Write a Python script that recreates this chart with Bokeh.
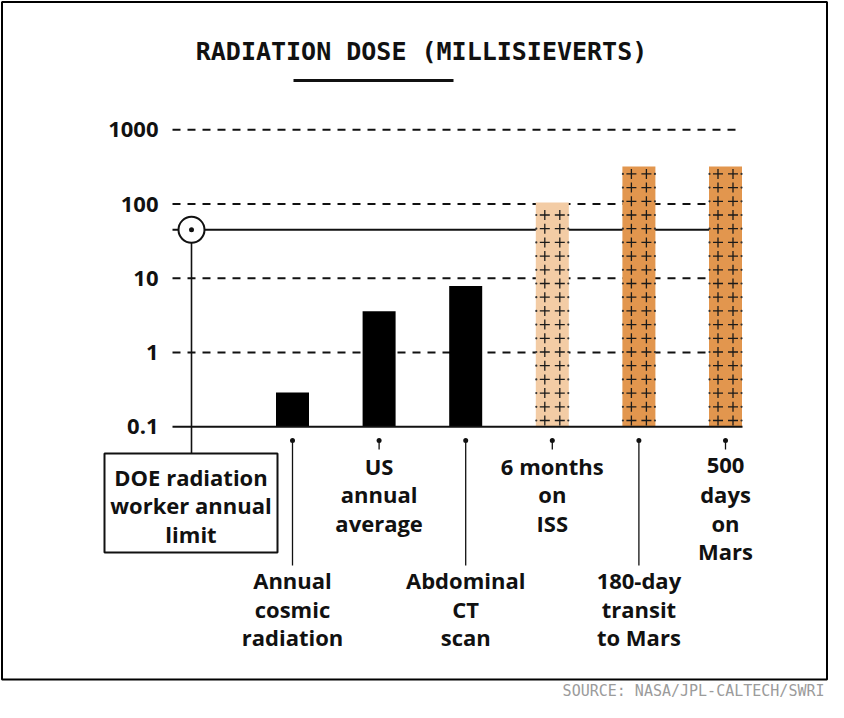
import numpy as np
from bokeh.plotting import figure
from bokeh.models import Range1d, LinearScale
from bokeh.core.properties import value
from bokeh.embed import file_html
from bokeh.resources import INLINE

# ---------------- data ----------------
categories = ["Annual\ncosmic\nradiation", "US\nannual\naverage", "Abdominal\nCT\nscan",
              "6 months\non\nISS", "180-day\ntransit\nto Mars", "500\ndays\non\nMars"]
doses = [0.29, 3.6, 7.9, 105, 320, 320]
bar_colors = ["#000000", "#000000", "#000000", "#F3CCA5", "#E2964E", "#E2964E"]
hatched = [False, False, False, True, True, True]
label_below = [True, False, True, False, True, False]
tick_values = [0.1, 1, 10, 100, 1000]
tick_labels = ["0.1", "1", "10", "100", "1000"]
doe_limit = 45
doe_label = "DOE radiation\nworker annual\nlimit"
title_text = "RADIATION DOSE (MILLISIEVERTS)"
source_text = "SOURCE: NASA/JPL-CALTECH/SWRI"

# ---------------- layout constants (pixels) ----------------
W, H = 828, 702
BASE_Y = 426.3     # pixel row of 0.1
DEC = 74.25        # pixels per decade
X0, STEP = 292.0, 86.6   # first bar centre, bar spacing

def ref_to_val(y):
    return 0.1 * 10 ** ((BASE_Y - y) / DEC)

def val_to_ref(v):
    return BASE_Y - DEC * np.log10(v / 0.1)

FONT = value("Open Sans")
INK = "#111111"

p = figure(width=W, height=H,
           x_range=Range1d((0 - X0) / STEP, (W - X0) / STEP),
           y_range=Range1d(ref_to_val(H), ref_to_val(0)),
           y_axis_type="log", x_axis_location=None, y_axis_location=None,
           output_backend="svg", toolbar_location=None, min_border=0,
           outline_line_color=None, background_fill_color="white",
           border_fill_color="white")
p.grid.visible = False
p.extra_x_ranges = {"px": Range1d(0, W)}
p.extra_y_ranges = {"px": Range1d(H, 0)}
p.extra_x_scales = {"px": LinearScale()}
p.extra_y_scales = {"px": LinearScale()}
PX = dict(x_range_name="px", y_range_name="px")

# outer frame
p.quad(left=[1.5], right=[826.5], top=[1.5], bottom=[679], fill_color=None,
       line_color="black", line_width=2, **PX)

# title + underline
p.text(x=[421], y=[50.5], text=[title_text], text_align="center", text_baseline="middle",
       text_font=value("DejaVu Sans Mono"), text_font_style="bold", text_font_size="25px",
       text_color=INK, **PX)
p.segment(x0=[293], x1=[453], y0=[80], y1=[80], line_width=3, line_color=INK, **PX)

# dashed grid lines
grid_vals = tick_values[1:]
p.segment(x0=[172] * len(grid_vals), x1=[735] * len(grid_vals), y0=grid_vals, y1=grid_vals,
          line_dash="8 7", line_width=2, line_color=INK, x_range_name="px")

# DOE limit line
p.segment(x0=[172], x1=[735], y0=[doe_limit], y1=[doe_limit], line_width=2,
          line_color=INK, x_range_name="px")
p.segment(x0=[191], x1=[191], y0=[val_to_ref(doe_limit)], y1=[453], line_width=1.6,
          line_color=INK, **PX)

# bars
idx = list(range(len(categories)))
p.vbar(x=idx, top=doses, bottom=0.1, width=33 / STEP, fill_color=bar_colors, line_color=None)

# hatch of plus signs on the space-travel bars
hx, hy, dx, dy = [], [], [], []
for i, (d, h) in enumerate(zip(doses, hatched)):
    if not h:
        continue
    top_ref = val_to_ref(d)
    k = 0
    while True:
        y = 420 - 13.7 * k
        if y - 4.5 < top_ref:
            break
        for off in (-7.5, 7.5):
            hx.append(i + off / STEP)
            hy.append(y)
        for off in (-16.0, 16.0):
            dx.append(i + off / STEP)
            dy.append(y)
        k += 1
p.scatter(x=hx, y=hy, marker="cross", size=10, line_color="#1a1a1a", line_width=1.3,
          y_range_name="px")
p.scatter(x=dx, y=dy, marker="circle", size=2.2, fill_color="#333333", line_color=None,
          y_range_name="px")

# baseline
p.segment(x0=[172], x1=[742], y0=[0.1], y1=[0.1], line_width=2, line_color=INK,
          x_range_name="px")

# DOE marker
p.scatter(x=[191], y=[doe_limit], marker="circle", size=26, fill_color="white",
          line_color=INK, line_width=2, x_range_name="px")
p.scatter(x=[191], y=[doe_limit], marker="circle", size=5, fill_color=INK,
          line_color=None, x_range_name="px")

# DOE box
p.quad(left=[104], right=[277], top=[453], bottom=[552], fill_color="white",
       line_color=INK, line_width=2, **PX)
doe_lines = doe_label.split("\n")
p.text(x=[190.5] * len(doe_lines), y=[476 + 28.5 * j for j in range(len(doe_lines))],
       text=doe_lines, text_align="center", text_baseline="middle", text_font=FONT,
       text_font_style="bold", text_font_size="22px", text_color=INK, **PX)

# stubs below the bars
p.scatter(x=idx, y=[440] * len(idx), marker="circle", size=5, fill_color=INK,
          line_color=None, y_range_name="px")
p.segment(x0=idx, x1=idx, y0=[440] * len(idx),
          y1=[565 if b else 449 for b in label_below], line_width=1.3, line_color=INK,
          y_range_name="px")

# category labels
lx, ly, lt = [], [], []
for i, (c, b) in enumerate(zip(categories, label_below)):
    start = 579.5 if b else 465
    for j, line in enumerate(c.split("\n")):
        lx.append(i)
        ly.append(start + 28.6 * j)
        lt.append(line)
p.text(x=lx, y=ly, text=lt, text_align="center", text_baseline="middle", text_font=FONT,
       text_font_style="bold", text_font_size="22px", text_color=INK, y_range_name="px")

# y tick labels
p.text(x=[158] * len(tick_values), y=tick_values, text=tick_labels, text_align="right",
       text_baseline="middle", text_font=FONT, text_font_style="bold", text_font_size="22px",
       text_color=INK, x_range_name="px")

# source note
p.text(x=[824], y=[690], text=[source_text], text_align="right", text_baseline="middle",
       text_font=value("DejaVu Sans Mono"), text_font_size="15px", text_color="#9b9b9b", **PX)

open("out.html", "w").write(file_html(p, INLINE))
